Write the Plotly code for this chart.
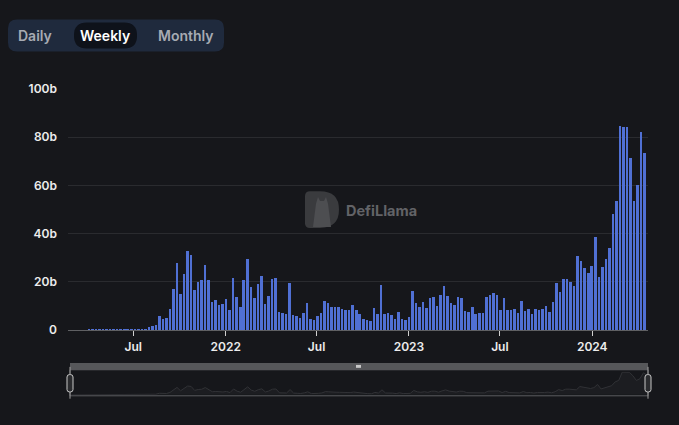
import pandas as pd
import plotly.graph_objects as go

# ---------------- data (weekly volume, billions USD) ----------------
start_date = "2021-02-28"
weekly_values = [
    0, 0, 0, 0, 0.05, 0.2, 0.2, 0.3, 0.2, 0.3, 0.3, 0.5, 0.2, 0.2, 0.2, 0.2, 0.3, 0.2, 0.2, 0.2, 0.3, 0.6,
    1.2, 1.7, 2.3, 5.9, 4.7, 5.1, 8.8, 16.9, 27.7, 15.1, 23.1, 32.8, 31.2, 16.5, 19.9, 20.9, 27.2, 20.7,
    11.5, 12.7, 10.4, 10.7, 12.8, 8.4, 21.7, 13.7, 9.7, 20.8, 29.7, 17.7, 13.3, 19.2, 22.5, 10.7, 14.3,
    21.1, 21.7, 7.5, 7.2, 6.9, 19.6, 6.5, 5.9, 5.1, 7.3, 11.3, 4.7, 4.4, 5.7, 7.1, 12.0, 11.3, 9.7, 9.7,
    9.5, 8.7, 8.5, 8.3, 10.4, 8.4, 6.8, 4.5, 4.4, 4.0, 9.1, 6.8, 18.7, 6.8, 7.3, 6.4, 4.7, 7.6, 4.7, 4.4,
    5.5, 16.4, 11.2, 9.5, 11.6, 9.3, 13.5, 13.7, 10.0, 14.7, 18.4, 14.0, 11.1, 10.5, 13.6, 13.2, 8.1,
    7.5, 9.6, 6.9, 7.1, 7.3, 13.6, 14.4, 15.3, 14.4, 8.5, 13.2, 8.5, 8.5, 8.9, 7.3, 12.3, 8.0, 8.9, 6.8,
    8.9, 8.3, 8.7, 10.1, 7.7, 11.5, 19.5, 15.9, 21.2, 21.2, 20.1, 18.5, 30.8, 28.8, 25.9, 23.7, 26.8,
    38.7, 22.0, 26.4, 29.5, 34.0, 48.3, 53.7, 84.5, 84.4, 84.1, 71.2, 53.5, 60.0, 82.3, 73.6,
]
dates = pd.date_range(start_date, periods=len(weekly_values), freq="7D")

x_tick_vals = ["2021-07-01", "2022-01-01", "2022-07-01", "2023-01-01", "2023-07-01", "2024-01-01"]
x_tick_text = ["Jul", "2022", "Jul", "2023", "Jul", "2024"]
y_tick_vals = [0, 20, 40, 60, 80, 100]
y_tick_text = ["0", "20b", "40b", "60b", "80b", "100b"]
x_range = ["2021-02-21", "2024-04-21"]
buttons = ["Daily", "Weekly", "Monthly"]

# ---------------- styling ----------------
W, H = 679, 425
BG = "#16171b"
BAR = "#5070d4"
FONT = "Inter"


def px(x):
    return x / W


def py(y):
    return 1 - y / H


def rrect(x0, y0, x1, y1, r):
    pts = [
        f"M {px(x0 + r)},{py(y0)}",
        f"L {px(x1 - r)},{py(y0)}",
        f"Q {px(x1)},{py(y0)} {px(x1)},{py(y0 + r)}",
        f"L {px(x1)},{py(y1 - r)}",
        f"Q {px(x1)},{py(y1)} {px(x1 - r)},{py(y1)}",
        f"L {px(x0 + r)},{py(y1)}",
        f"Q {px(x0)},{py(y1)} {px(x0)},{py(y1 - r)}",
        f"L {px(x0)},{py(y0 + r)}",
        f"Q {px(x0)},{py(y0)} {px(x0 + r)},{py(y0)}",
        "Z",
    ]
    return " ".join(pts)


fig = go.Figure()
fig.add_trace(go.Bar(
    x=dates, y=weekly_values,
    marker=dict(color=BAR, line=dict(width=0)),
    width=7 * 24 * 3600 * 1000 * 0.72,
    xaxis="x", yaxis="y", hoverinfo="skip",
))
fig.add_trace(go.Scatter(
    x=dates, y=weekly_values, mode="lines",
    line=dict(color="#313236", width=1),
    fill="tozeroy", fillcolor="#1c1d21",
    xaxis="x2", yaxis="y2", hoverinfo="skip",
))

shapes = []
# button group
shapes.append(dict(type="path", path=rrect(8, 12, 224, 45, 9), xref="paper", yref="paper",
                   fillcolor="#1f2a3d", line=dict(width=0), layer="below"))
shapes.append(dict(type="path", path=rrect(74, 15, 137, 42, 13), xref="paper", yref="paper",
                   fillcolor="#0e121a", line=dict(width=0), layer="below"))
# watermark logo (D shape)
shapes.append(dict(type="path",
                   path=(f"M {px(310)},{py(190)} L {px(320)},{py(190)} "
                         f"Q {px(339)},{py(190)} {px(339)},{py(209)} "
                         f"Q {px(339)},{py(228)} {px(320)},{py(228)} "
                         f"L {px(310)},{py(228)} Q {px(305)},{py(228)} {px(305)},{py(223)} "
                         f"L {px(305)},{py(195)} Q {px(305)},{py(190)} {px(310)},{py(190)} Z"),
                   xref="paper", yref="paper", fillcolor="#3a3b3e", line=dict(width=0), layer="below"))
shapes.append(dict(type="path",
                   path=(f"M {px(313)},{py(227)} L {px(316)},{py(203)} L {px(318)},{py(196)} "
                         f"L {px(320)},{py(200)} L {px(324)},{py(200)} L {px(326)},{py(196)} "
                         f"L {px(328)},{py(203)} L {px(331)},{py(227)} Z"),
                   xref="paper", yref="paper", fillcolor="#4d4e51", line=dict(width=0), layer="below"))
# data zoom slider
shapes.append(dict(type="rect", x0=px(70), x1=px(648), y0=py(368), y1=py(375), xref="paper", yref="paper",
                   fillcolor="#56575a", line=dict(width=0)))
shapes.append(dict(type="rect", x0=px(356), x1=px(361), y0=py(370), y1=py(373), xref="paper", yref="paper",
                   fillcolor="#c8c8c8", line=dict(width=0)))
shapes.append(dict(type="rect", x0=px(70), x1=px(648), y0=py(375), y1=py(402), xref="paper", yref="paper",
                   fillcolor="rgba(0,0,0,0)", line=dict(color="#5c5d60", width=1)))
for hx in (70, 648):
    shapes.append(dict(type="line", x0=px(hx), x1=px(hx), y0=py(372), y1=py(405), xref="paper", yref="paper",
                       line=dict(color="#a0a0a0", width=1)))
    shapes.append(dict(type="path", path=rrect(hx - 3, 380, hx + 3, 398, 2.5), xref="paper", yref="paper",
                       fillcolor="#2b2c2f", line=dict(color="#c8c8c8", width=1)))

annotations = []
btn_x = [35, 105, 186]
for name, bx in zip(buttons, btn_x):
    annotations.append(dict(
        text=name, x=px(bx), y=py(29), xref="paper", yref="paper", showarrow=False,
        xanchor="center", yanchor="middle",
        font=dict(family=FONT, size=14, weight=600,
                  color="#ffffff" if name == "Weekly" else "#a7abb3"),
    ))
annotations.append(dict(
    text="DefiLlama", x=px(344), y=py(210), xref="paper", yref="paper", showarrow=False,
    xanchor="left", yanchor="middle",
    font=dict(family=FONT, size=14.5, weight=700, color="#626367"),
))

fig.update_layout(
    width=W, height=H,
    margin=dict(l=0, r=0, t=0, b=0),
    paper_bgcolor=BG, plot_bgcolor=BG,
    showlegend=False, bargap=0,
    hovermode=False,
    shapes=shapes, annotations=annotations,
    xaxis=dict(
        domain=[px(68), px(648)], anchor="y", type="date", range=x_range,
        tickvals=x_tick_vals, ticktext=x_tick_text,
        showgrid=False, zeroline=False,
        showline=True, linecolor="#5f6063", linewidth=1,
        ticks="outside", ticklen=5, tickcolor="#d0d0d0", tickwidth=1,
        tickfont=dict(family=FONT, size=12, color="#ececec", weight=600),
    ),
    yaxis=dict(
        domain=[py(334), py(84)], anchor="x", range=[0, 100],
        tickvals=y_tick_vals, ticktext=y_tick_text,
        showgrid=True, gridcolor="#2a2b2f", gridwidth=1, zeroline=False,
        showline=False, ticks="", ticklabelstandoff=10,
        tickfont=dict(family=FONT, size=12, color="#ececec", weight=600),
    ),
    xaxis2=dict(
        domain=[px(71), px(647)], anchor="y2", type="date",
        range=[dates[0], dates[-1]], visible=False,
    ),
    yaxis2=dict(
        domain=[py(401), py(377)], anchor="x2",
        range=[0, max(weekly_values) * 1.02], visible=False,
    ),
)

fig.write_html("out.html")
